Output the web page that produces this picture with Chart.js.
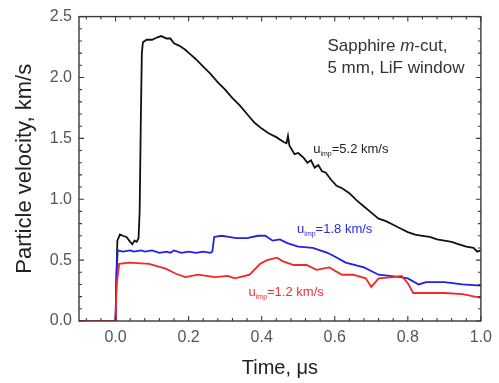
<!DOCTYPE html>
<html><head><meta charset="utf-8">
<script src="https://cdn.jsdelivr.net/npm/chart.js@4"></script>
<style>html,body{margin:0;padding:0;background:#fff}</style></head>
<body><canvas id="c" width="499" height="383"></canvas>
<script>
const xTicks=[0.0,0.2,0.4,0.6,0.8,1.0];
const yTicks=[0.0,0.5,1.0,1.5,2.0,2.5];
const blackT=[-0.08,0.0,0.002,0.005,0.012,0.02,0.03,0.04,0.046,0.052,0.058,0.063,0.066,0.069,0.072,0.075,0.085,0.1,0.115,0.125,0.14,0.15,0.16,0.175,0.19,0.205,0.22,0.24,0.26,0.28,0.3,0.32,0.34,0.36,0.38,0.4,0.42,0.44,0.46,0.468,0.472,0.476,0.49,0.5,0.515,0.525,0.535,0.545,0.555,0.565,0.575,0.59,0.605,0.62,0.64,0.66,0.68,0.7,0.72,0.74,0.76,0.78,0.8,0.82,0.84,0.86,0.88,0.9,0.92,0.94,0.96,0.98,0.99,1.0];
const blackV=[0,0,0.3,0.66,0.71,0.70,0.69,0.65,0.63,0.66,0.65,0.68,0.9,1.6,2.2,2.29,2.31,2.31,2.33,2.34,2.32,2.32,2.28,2.26,2.23,2.19,2.15,2.09,2.03,1.96,1.90,1.83,1.77,1.70,1.63,1.58,1.54,1.51,1.47,1.46,1.52,1.44,1.37,1.38,1.34,1.30,1.32,1.26,1.28,1.23,1.22,1.16,1.11,1.09,1.05,0.99,0.94,0.89,0.84,0.82,0.79,0.76,0.73,0.71,0.70,0.69,0.67,0.66,0.65,0.63,0.61,0.60,0.57,0.58];
const blueT=[0.0,0.003,0.006,0.02,0.04,0.05,0.07,0.08,0.1,0.12,0.14,0.15,0.16,0.18,0.2,0.22,0.24,0.26,0.265,0.27,0.29,0.31,0.33,0.36,0.39,0.41,0.43,0.45,0.47,0.5,0.54,0.58,0.6,0.63,0.68,0.72,0.75,0.78,0.8,0.83,0.85,0.9,0.95,1.0];
const blueV=[0,0.40,0.58,0.57,0.58,0.57,0.58,0.57,0.58,0.56,0.57,0.56,0.58,0.56,0.57,0.56,0.57,0.56,0.57,0.69,0.70,0.69,0.68,0.68,0.70,0.70,0.66,0.67,0.64,0.61,0.60,0.56,0.53,0.48,0.44,0.38,0.37,0.36,0.35,0.30,0.32,0.32,0.30,0.29];
const redT=[-0.1,0.0,0.003,0.01,0.038,0.092,0.137,0.164,0.191,0.226,0.272,0.307,0.327,0.367,0.396,0.415,0.442,0.458,0.488,0.523,0.55,0.585,0.62,0.65,0.685,0.70,0.72,0.76,0.783,0.80,0.815,0.85,0.9,0.95,1.0];
const redV=[0,0,0.3,0.47,0.48,0.47,0.43,0.39,0.36,0.38,0.36,0.37,0.35,0.38,0.47,0.50,0.52,0.49,0.46,0.46,0.42,0.44,0.38,0.38,0.35,0.28,0.35,0.36,0.37,0.31,0.23,0.23,0.23,0.22,0.19];

const pts=(t,v)=>t.map((x,i)=>({x:x,y:v[i]}));
const FONT='"Liberation Sans", Arial, sans-serif';

const decor={id:'decor',afterDatasetsDraw(chart){
  const {ctx,chartArea:a,scales:{x,y}}=chart;
  ctx.save();
  ctx.strokeStyle='#3a3a3a';ctx.lineWidth=1.4;
  ctx.strokeRect(a.left,a.top,a.right-a.left,a.bottom-a.top);
  ctx.lineWidth=1.1;
  ctx.beginPath();
  for(let i=0;i<=27;i++){const v=-0.08+i*0.04; if(v>1.0001) break;
    const px=x.getPixelForValue(v); const major=Math.abs((v*5)-Math.round(v*5))<1e-6; const L=major?5:3;
    ctx.moveTo(px,a.bottom);ctx.lineTo(px,a.bottom-L);ctx.moveTo(px,a.top);ctx.lineTo(px,a.top+L);}
  for(let i=0;i<=25;i++){const v=i*0.1; const py=y.getPixelForValue(v); const L=(i%5===0)?5:3;
    ctx.moveTo(a.left,py);ctx.lineTo(a.left+L,py);ctx.moveTo(a.right,py);ctx.lineTo(a.right-L,py);}
  ctx.stroke();
  ctx.textBaseline='alphabetic';ctx.textAlign='left';
  ctx.fillStyle='#333';
  let sx=x.getPixelForValue(0.58), sy=y.getPixelForValue(2.22);
  ctx.font='17px '+FONT; let s='Sapphire '; ctx.fillText(s,sx,sy); let w=ctx.measureText(s).width;
  ctx.font='italic 17px '+FONT; ctx.fillText('m',sx+w,sy); w+=ctx.measureText('m').width;
  ctx.font='17px '+FONT; ctx.fillText('-cut,',sx+w,sy);
  ctx.fillText('5 mm, LiF window',sx,y.getPixelForValue(2.04));
  function lab(t,v,val,col){
    let px=x.getPixelForValue(t),py=y.getPixelForValue(v);
    ctx.fillStyle=col;ctx.font='13px '+FONT;ctx.fillText('u',px,py);let ww=ctx.measureText('u').width;
    ctx.font='7px '+FONT;ctx.fillText('imp',px+ww,py+3);ww+=ctx.measureText('imp').width;
    ctx.font='13px '+FONT;ctx.fillText('='+val+' km/s',px+ww,py);
  }
  lab(0.541,1.38,'5.2','#222');
  lab(0.497,0.72,'1.8','#2a2ae6');
  lab(0.364,0.205,'1.2','#ee3030');
  ctx.restore();
}};

new Chart(document.getElementById('c'),{
  type:'line',
  data:{datasets:[
    {data:pts(redT,redV),borderColor:'#f02828',borderWidth:1.8,pointRadius:0,tension:0},
    {data:pts(blueT,blueV),borderColor:'#2020e8',borderWidth:1.8,pointRadius:0,tension:0},
    {data:pts(blackT,blackV),borderColor:'#111',borderWidth:1.8,pointRadius:0,tension:0}
  ]},
  options:{
    responsive:false,animation:false,
    layout:{padding:{top:16,right:12,left:0,bottom:0}},
    plugins:{legend:{display:false},tooltip:{enabled:false}},
    scales:{
      x:{type:'linear',min:-0.1,max:1.0,
        afterBuildTicks:s=>{s.ticks=xTicks.map(v=>({value:v}));},
        afterFit:s=>{s.height=62;},
        grid:{display:false,drawTicks:false},border:{display:false},
        ticks:{callback:v=>Number(v).toFixed(1),font:{family:FONT,size:16},color:'#555',padding:7,maxRotation:0,autoSkip:false},
        title:{display:true,text:'Time, μs',font:{family:FONT,size:20},color:'#222',padding:{top:0,bottom:3}}},
      y:{type:'linear',min:0,max:2.5,
        afterBuildTicks:s=>{s.ticks=yTicks.map(v=>({value:v}));},
        afterFit:s=>{s.width=79;},
        grid:{display:false,drawTicks:false},border:{display:false},
        ticks:{callback:v=>Number(v).toFixed(1),font:{family:FONT,size:16},color:'#555',padding:7},
        title:{display:true,text:'Particle velocity, km/s',font:{family:FONT,size:22},color:'#222',padding:{top:12,bottom:0}}}
    }
  },
  plugins:[decor]
});
</script></body></html>
